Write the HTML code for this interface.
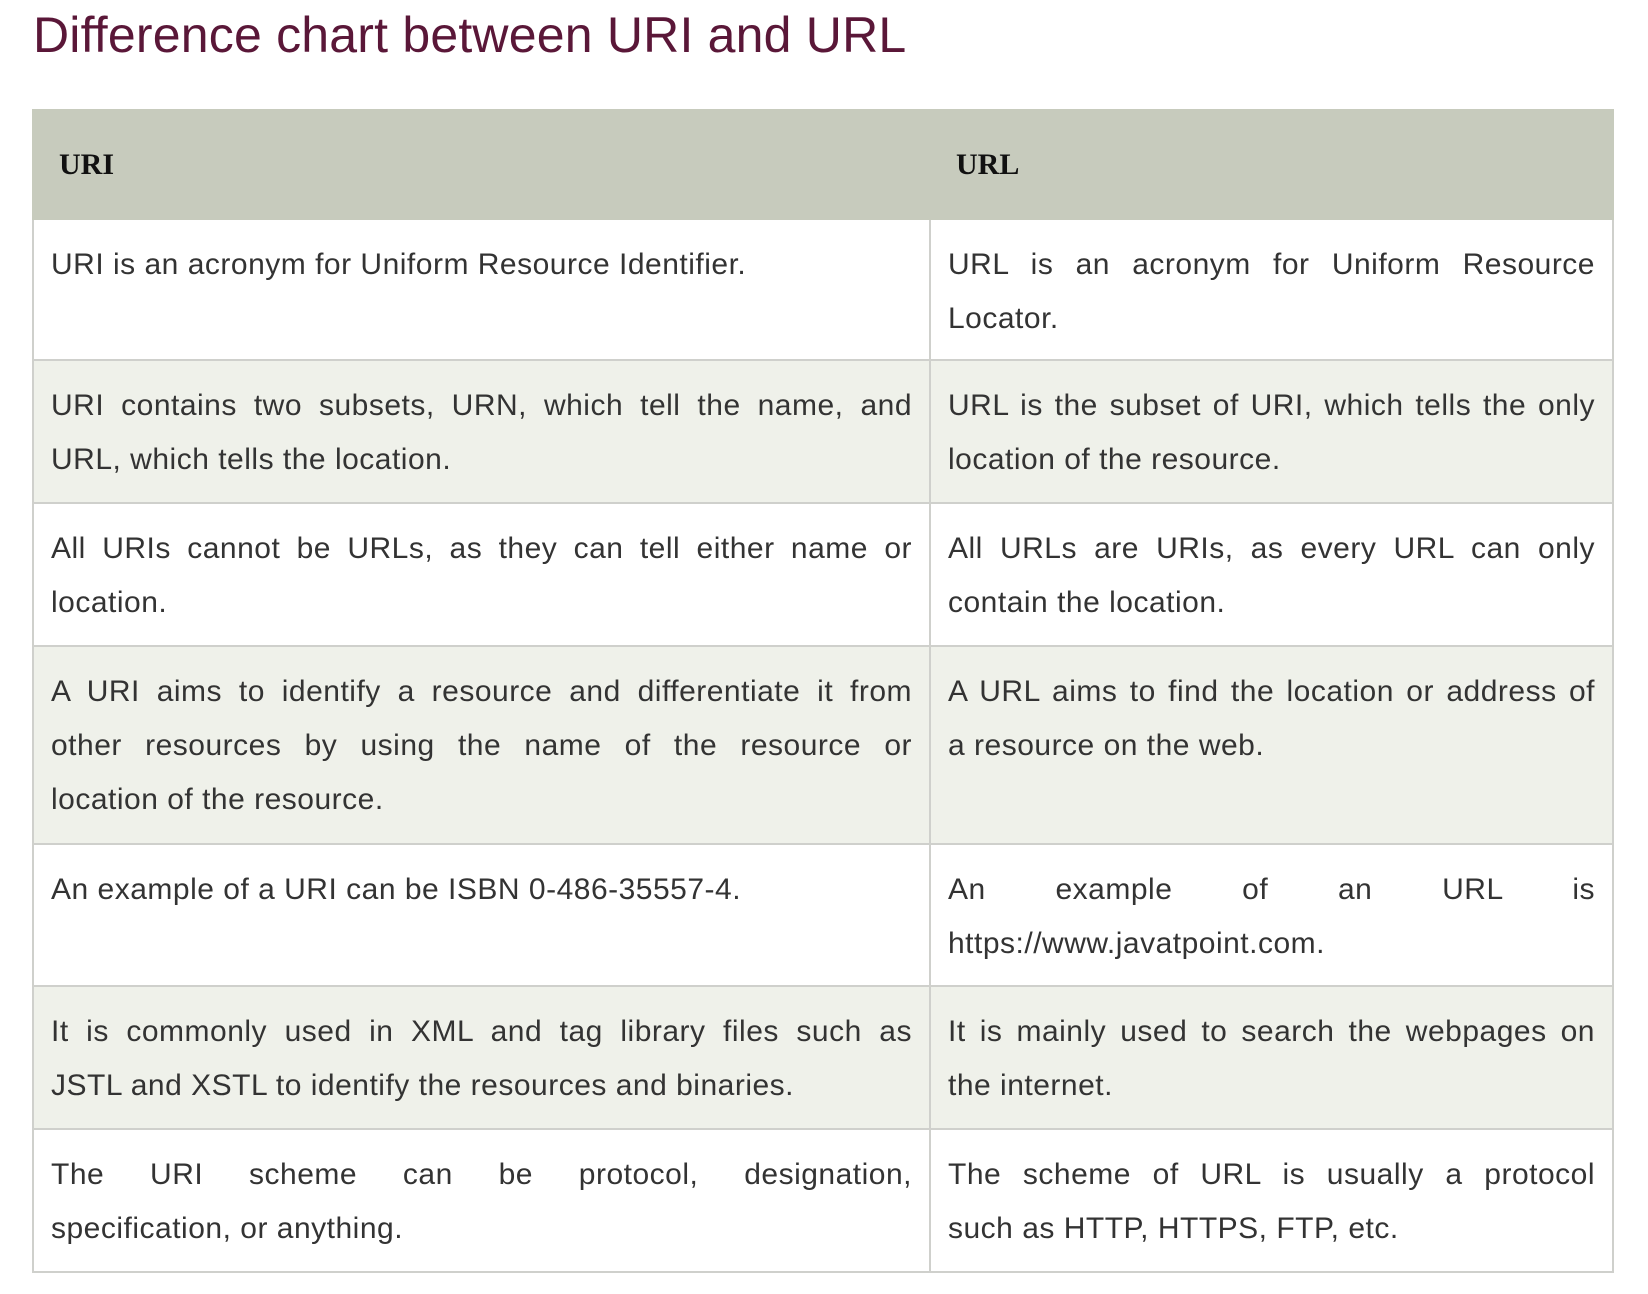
<!DOCTYPE html>
<html><head><meta charset="utf-8"><style>
body{margin:0;width:1648px;height:1294px;background:#fff;font-family:"Liberation Sans",sans-serif;position:relative;overflow:hidden}
h1{position:absolute;left:33px;top:5px;margin:0;font-weight:normal;font-size:50px;color:#5a1738;line-height:60px;letter-spacing:0.2px}
table{position:absolute;left:32px;top:109px;width:1580px;border-collapse:collapse;table-layout:fixed}
th{background:#c7cbbd;height:107px;text-align:left;padding:0 0 0 25px;font-family:"Liberation Serif",serif;font-size:30px;font-weight:bold;color:#111;border:2px solid #c7cbbd}
td{vertical-align:top;padding:18px 17px 0 17px;font-size:30px;letter-spacing:0.5px;line-height:54px;color:#333;border:2px solid #cfd0cc;box-sizing:border-box}
tr.alt td{background:#eff1ea}
.j{display:block;text-align:justify;text-align-last:justify;white-space:nowrap}
.l{display:block;white-space:nowrap}
</style></head><body>
<h1>Difference chart between URI and URL</h1>
<table>
<colgroup><col style="width:897px"><col style="width:683px"></colgroup>
<tr><th>URI</th><th>URL</th></tr>
<tr style="height:141px"><td><span class="l">URI is an acronym for Uniform Resource Identifier.</span></td><td><span class="j">URL is an acronym for Uniform Resource</span><span class="l">Locator.</span></td></tr>
<tr class="alt" style="height:143px"><td><span class="j">URI contains two subsets, URN, which tell the name, and</span><span class="l">URL, which tells the location.</span></td><td><span class="j">URL is the subset of URI, which tells the only</span><span class="l">location of the resource.</span></td></tr>
<tr style="height:143px"><td><span class="j">All URIs cannot be URLs, as they can tell either name or</span><span class="l">location.</span></td><td><span class="j">All URLs are URIs, as every URL can only</span><span class="l">contain the location.</span></td></tr>
<tr class="alt" style="height:198px"><td><span class="j">A URI aims to identify a resource and differentiate it from</span><span class="j">other resources by using the name of the resource or</span><span class="l">location of the resource.</span></td><td><span class="j">A URL aims to find the location or address of</span><span class="l">a resource on the web.</span></td></tr>
<tr style="height:142px"><td><span class="l">An example of a URI can be ISBN 0-486-35557-4.</span></td><td><span class="j">An example of an URL is</span><span class="l">https://www.javatpoint.com.</span></td></tr>
<tr class="alt" style="height:143px"><td><span class="j">It is commonly used in XML and tag library files such as</span><span class="l">JSTL and XSTL to identify the resources and binaries.</span></td><td><span class="j">It is mainly used to search the webpages on</span><span class="l">the internet.</span></td></tr>
<tr style="height:143px"><td><span class="j">The URI scheme can be protocol, designation,</span><span class="l">specification, or anything.</span></td><td><span class="j">The scheme of URL is usually a protocol</span><span class="l">such as HTTP, HTTPS, FTP, etc.</span></td></tr>
</table>
</body></html>
